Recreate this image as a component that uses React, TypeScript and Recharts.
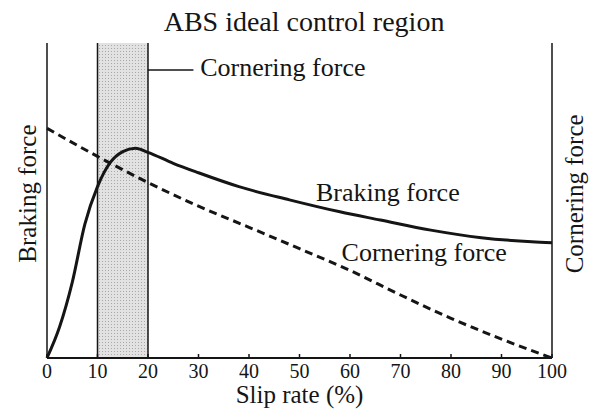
import { ComposedChart, Line, XAxis, YAxis, ReferenceArea, ReferenceLine, ReferenceDot } from "recharts"

const slipTicks = [0, 10, 20, 30, 40, 50, 60, 70, 80, 90, 100]

// braking force vs slip rate (solid)
const brakingSlip = [0, 2.5, 5, 7.5, 10, 12.5, 15, 17.5, 20, 25, 30, 38, 48, 58, 66, 76, 86, 96, 100]
const brakingForce = [0, 9.9, 24, 42.5, 54.4, 62, 65.5, 66.6, 65.3, 61.8, 58.8, 54.4, 50.2, 46.4, 43.8, 40.6, 38.2, 36.9, 36.6]

// cornering force vs slip rate (dashed)
const corneringSlip = [0, 10, 20, 30, 40, 50, 60, 70, 80, 90, 100]
const corneringForce = [72.9, 64, 55.7, 48.2, 41.5, 34.7, 27.8, 20, 12.6, 6, 0]

const idealRegion = [10, 20]

const ink = "#151515"
const serif = "Liberation Serif, Times New Roman, serif"

export default function App() {
  const brakingData = brakingSlip.map((slip, i) => ({ slip, force: brakingForce[i] }))
  const corneringData = corneringSlip.map((slip, i) => ({ slip, force: corneringForce[i] }))

  const textStyle = { fill: ink, fontFamily: serif }

  return (
    <div style={{ position: "absolute", left: 0, top: 0, background: "#fff" }}>
      <ComposedChart width={591} height={411} margin={{ top: 43, right: 0, bottom: 3, left: 0 }}>
        <defs>
          <pattern id="stipple" width="3" height="3" patternUnits="userSpaceOnUse">
            <rect width="3" height="3" fill="#e2e2e2" />
            <rect width="1" height="1" fill="#a9a9a9" />
          </pattern>
        </defs>
        <XAxis
          dataKey="slip"
          type="number"
          domain={[0, 100]}
          ticks={slipTicks}
          height={50}
          tickSize={-4}
          tickMargin={10}
          axisLine={{ stroke: ink, strokeWidth: 2 }}
          tickLine={{ stroke: ink, strokeWidth: 1.5 }}
          tick={{ ...textStyle, fontSize: 20 }}
          label={{ value: "Slip rate (%)", position: "insideBottom", offset: 5, fontSize: 25, ...textStyle }}
        />
        <YAxis yAxisId="left" domain={[0, 100]} width={47} tick={false} tickLine={false} axisLine={{ stroke: ink, strokeWidth: 1.5 }} />
        <YAxis yAxisId="right" orientation="right" domain={[0, 100]} width={39} tick={false} tickLine={false} axisLine={{ stroke: ink, strokeWidth: 1.5 }} />

        <ReferenceArea yAxisId="left" x1={idealRegion[0]} x2={idealRegion[1]} y1={0} y2={100} fill="url(#stipple)" fillOpacity={1} stroke="none" />
        <ReferenceLine yAxisId="left" x={idealRegion[0]} stroke={ink} strokeWidth={1.5} />
        <ReferenceLine yAxisId="left" x={idealRegion[1]} stroke={ink} strokeWidth={1.5} />
        <ReferenceLine yAxisId="left" segment={[{ x: 20, y: 91.4 }, { x: 29, y: 91.4 }]} stroke={ink} strokeWidth={1.5} />

        <Line yAxisId="left" data={corneringData} dataKey="force" type="monotone" stroke={ink} strokeWidth={3} strokeDasharray="8 5" dot={false} isAnimationActive={false} />
        <Line yAxisId="left" data={brakingData} dataKey="force" type="monotone" stroke={ink} strokeWidth={3} dot={false} isAnimationActive={false} />

        {/* text annotations */}
        <ReferenceDot yAxisId="left" x={50.9} y={107} r={0} ifOverflow="visible" fill="none" stroke="none"
          label={{ value: "ABS ideal control region", position: "center", fontSize: 28, ...textStyle }} />
        <ReferenceDot yAxisId="left" x={46.7} y={92.4} r={0} ifOverflow="visible" fill="none" stroke="none"
          label={{ value: "Cornering force", position: "center", fontSize: 26, ...textStyle }} />
        <ReferenceDot yAxisId="left" x={67.5} y={52.8} r={0} ifOverflow="visible" fill="none" stroke="none"
          label={{ value: "Braking force", position: "center", fontSize: 26, ...textStyle }} />
        <ReferenceDot yAxisId="left" x={74.7} y={33.6} r={0} ifOverflow="visible" fill="none" stroke="none"
          label={{ value: "Cornering force", position: "center", fontSize: 26, ...textStyle }} />
        <ReferenceDot yAxisId="left" x={-3.9} y={52.2} r={0} ifOverflow="visible" fill="none" stroke="none"
          label={{ value: "Braking force", position: "center", angle: -90, fontSize: 25, ...textStyle }} />
        <ReferenceDot yAxisId="left" x={104.4} y={52.1} r={0} ifOverflow="visible" fill="none" stroke="none"
          label={{ value: "Cornering force", position: "center", angle: -90, fontSize: 25, ...textStyle }} />
      </ComposedChart>
    </div>
  )
}
